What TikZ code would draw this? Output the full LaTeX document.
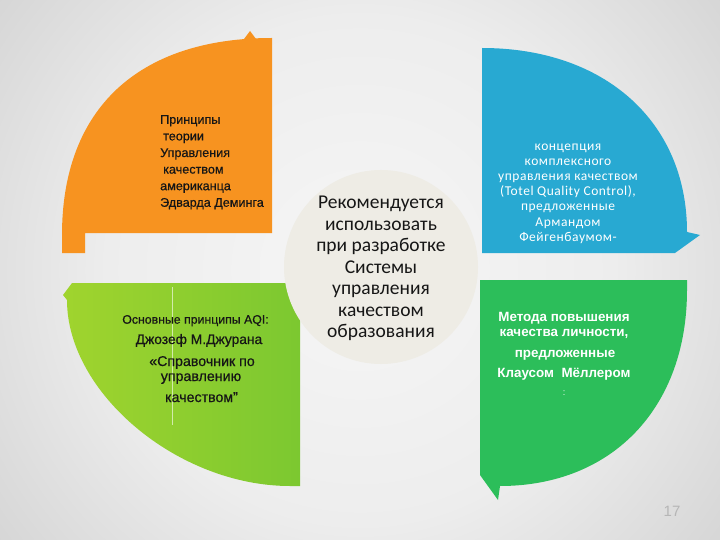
\documentclass[tikz,border=0pt]{standalone}
\usepackage{fontspec}
\setmainfont{Liberation Sans}
\newfontfamily\carl{Carlito}
\definecolor{bgA}{gray}{0.965}
\definecolor{bgB}{gray}{0.93}
\definecolor{bgC}{gray}{0.80}
\definecolor{bgD}{gray}{0.68}
\definecolor{bgE}{gray}{0.58}
\pgfdeclareradialshading{bgshade}{\pgfpoint{0bp}{0bp}}{color(0bp)=(bgA); color(14bp)=(bgB); color(30bp)=(bgC); color(40bp)=(bgD); color(50bp)=(bgE); color(60bp)=(bgE)}
\definecolor{orangeC}{RGB}{247,147,32}
\definecolor{blueC}{RGB}{40,169,210}
\definecolor{ygL}{RGB}{160,212,46}
\definecolor{ygR}{RGB}{124,200,48}
\definecolor{greenC}{RGB}{44,190,90}
\definecolor{circC}{RGB}{238,236,229}
\definecolor{txtD}{RGB}{22,22,22}
\definecolor{pgC}{RGB}{182,182,182}
\begin{document}
\begin{tikzpicture}[x=1pt,y=-1pt,
  otxt/.style={font=\addfontfeature{FakeBold=0.6}\fontsize{12.6}{15}\selectfont, text=txtD, inner sep=0, anchor=base west},
  ctxt/.style={font=\carl\fontsize{19.5}{21}\selectfont, text=txtD, inner sep=0, anchor=base},
  btxt/.style={font=\carl\addfontfeature{LetterSpace=4}\fontsize{13.5}{15}\selectfont, text=white, inner sep=0, anchor=base},
  ytxt/.style={text=txtD, inner sep=0, anchor=base},
  gtxt/.style={font=\bfseries\fontsize{13.4}{15}\selectfont, text=white, inner sep=0, anchor=base}]
\useasboundingbox (0,0) rectangle (720,540);
\begin{scope}
  \clip (0,0) rectangle (720,540);
  \shade[shading=bgshade] (-90,-180) rectangle (810,720);
\end{scope}
% orange quarter
\fill[orangeC] (62,253) -- (62,235) .. controls (62,109) and (138,38) .. (272,38)
  -- (272,233) -- (85,233) -- (85,253) -- cycle;
\fill[orangeC] (244,39) -- (250,31) -- (256,39) -- cycle;
% blue quarter
\fill[blueC] (482,253) -- (482,48) .. controls (605,48) and (687,122) .. (687,232)
  -- (700,235) -- (675,253) -- cycle;
% yellow-green quarter
\shade[left color=ygL, right color=ygR] (300,283) -- (72,283) -- (63,295) -- (67,300)
  .. controls (67,393) and (178,486) .. (290,486) -- (300,486) -- cycle;
\draw[white, opacity=0.6, line width=0.6pt] (172,287) -- (172,425);
% green quarter
\fill[greenC] (480,280) -- (687,280) -- (687,290) .. controls (687,408) and (612,486) .. (500,486)
  -- (498,500) -- (480,475) -- cycle;
% centre circle
\node[circle, fill=circC, minimum size=194pt, inner sep=0] (cc) at (381,267) {};
% texts
\foreach \t [count=\i] in {Принципы, \hspace*{3pt}теории, Управления, \hspace*{3pt}качеством, американца, Эдварда Деминга}
  \node[otxt] (o\i) at (160,{123.8+16.6*(\i-1)}) {\t};
\foreach \t [count=\i] in {Рекомендуется, использовать, при разработке, Системы, управления, качеством, образования}
  \node[ctxt] (c\i) at (381,{208.8+21.5*(\i-1)}) {\t};
\foreach \t [count=\i] in {концепция, комплексного, управления качеством, {(Totel Quality Control),}, предложенные, Армандом, Фейгенбаумом-}
  \node[btxt] (b\i) at (568,{151+15*(\i-1)}) {\t};
\node[ytxt, font=\addfontfeature{FakeBold=0.6}\fontsize{12.3}{14}\selectfont] (y1) at (195.5,323.7) {Основные принципы AQI:};
\node[ytxt, font=\addfontfeature{FakeBold=0.6}\fontsize{13.8}{15}\selectfont] (y2) at (199,344) {Джозеф М.Джурана};
\node[ytxt, font=\addfontfeature{FakeBold=0.6}\fontsize{14.2}{15}\selectfont] (y3) at (202,366) {«Справочник по};
\node[ytxt, font=\addfontfeature{FakeBold=0.6}\fontsize{14.2}{15}\selectfont] (y4) at (201,381) {управлению};
\node[ytxt, font=\addfontfeature{FakeBold=0.6}\fontsize{14.2}{15}\selectfont] (y5) at (201.5,402) {качеством"};
\node[gtxt] (g1) at (564,321) {Метода повышения};
\node[gtxt] (g2) at (564,336) {качества личности,};
\node[gtxt] (g3) at (565,357) {предложенные};
\node[gtxt] (g4) at (564,377) {Клаусом\ \ Мёллером};
\node[gtxt, font=\fontsize{9}{10}\selectfont] (g5) at (564,395) {:};
\node[font=\fontsize{15}{16}\selectfont, text=pgC, inner sep=0] (pg) at (672,511) {17};
\end{tikzpicture}
\end{document}
